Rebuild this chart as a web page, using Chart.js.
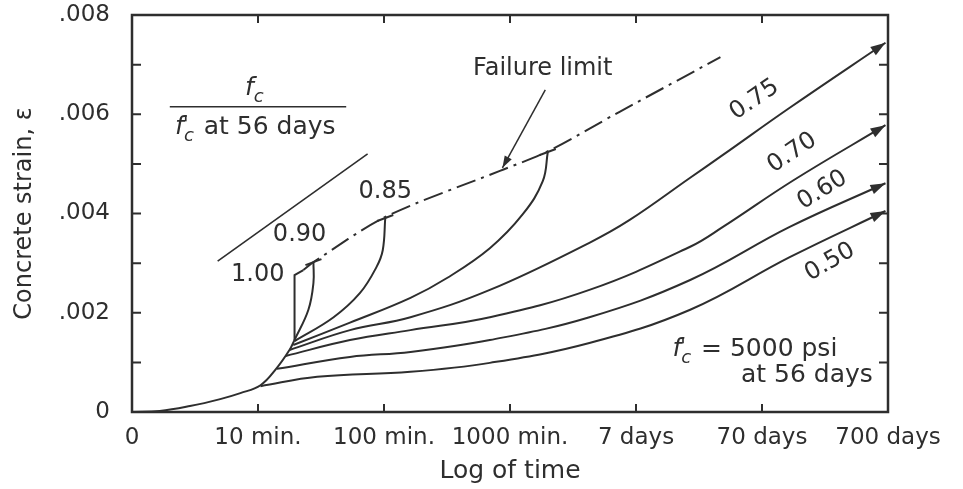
<!DOCTYPE html>
<html>
<head>
<meta charset="utf-8">
<script src="https://cdn.jsdelivr.net/npm/chart.js@4.4.1/dist/chart.umd.min.js"></script>
<style>
  html, body { margin: 0; padding: 0; background: #fff; }
</style>
</head>
<body>
<canvas id="creepChart" width="963" height="489"></canvas>
<script>
// Axis labels
const xTickLabels = ['0', '10 min.', '100 min.', '1000 min.', '7 days', '70 days', '700 days'];
const yTickLabels = ['0', '', '.002', '', '.004', '', '.006', '', '.008'];

// x = position on the log-time axis (0..6), y = strain
const initialX = [0, 0.22, 0.46, 0.70, 0.86, 1.02, 1.15, 1.25, 1.29];
const initialY = [0, 0.00002, 0.00012, 0.00026, 0.00038, 0.00054, 0.00089, 0.00125, 0.00145];

const ratio100X = [1.29, 1.29, 1.36];
const ratio100Y = [0.00145, 0.00276, 0.00286];

const ratio90X = [1.29, 1.40, 1.44, 1.44];
const ratio90Y = [0.00145, 0.00206, 0.00260, 0.00302];

const ratio85X = [1.29, 1.60, 1.81, 1.94, 1.99, 2.01];
const ratio85Y = [0.00143, 0.00191, 0.00240, 0.00292, 0.00326, 0.00391];

const ratio80X = [1.28, 1.73, 2.21, 2.50, 2.84, 3.10, 3.26, 3.30];
const ratio80Y = [0.00135, 0.00180, 0.00230, 0.00270, 0.00330, 0.00398, 0.00465, 0.00524];

const ratio75X = [1.25, 1.73, 2.21, 2.84, 3.63, 3.95, 4.43, 4.69, 5.22, 5.98];
const ratio75Y = [0.00125, 0.00165, 0.00191, 0.00246, 0.00341, 0.00387, 0.00472, 0.00518, 0.00613, 0.00744];

const ratio70X = [1.22, 1.73, 2.21, 2.84, 3.63, 4.43, 4.69, 5.25, 5.98];
const ratio70Y = [0.00113, 0.00145, 0.00165, 0.00191, 0.00246, 0.00333, 0.00373, 0.00467, 0.00578];

const ratio60X = [1.15, 1.73, 2.21, 2.84, 3.63, 4.43, 5.22, 5.98];
const ratio60Y = [0.00087, 0.00111, 0.00121, 0.00145, 0.00191, 0.00266, 0.00373, 0.00461];

const ratio50X = [1.02, 1.47, 2.21, 2.84, 3.63, 4.43, 5.22, 5.98];
const ratio50Y = [0.00052, 0.00071, 0.00081, 0.00099, 0.00139, 0.00206, 0.00312, 0.00405];

const failureX = [1.36, 1.44, 2.01, 2.92, 3.29, 3.87, 4.67];
const failureY = [0.00286, 0.00302, 0.00393, 0.00486, 0.00524, 0.00605, 0.00715];

// bracket line next to the ratio labels
const bracketX = [0.68, 1.87];
const bracketY = [0.00304, 0.00520];

const ink = '#2e2e2e';
const font = 'DejaVu Sans';

const pts = (xs, ys) => xs.map((x, i) => ({ x: x, y: ys[i] }));

function curve(xs, ys, extra) {
    return Object.assign({
        data: pts(xs, ys),
        showLine: true,
        borderColor: ink,
        borderWidth: 2,
        pointRadius: 0,
        tension: 0.4,
        fill: false
    }, extra || {});
}

// text placed in data coordinates
const curveLabels = [
    { text: '1.00', x: 1.21, y: 0.00276, align: 'right', rot: 0 },
    { text: '0.90', x: 1.33, y: 0.00357, align: 'center', rot: 0 },
    { text: '0.85', x: 2.01, y: 0.00443, align: 'center', rot: 0 },
    { text: '0.75', x: 4.94, y: 0.00629, align: 'center', rot: -34 },
    { text: '0.70', x: 5.24, y: 0.00522, align: 'center', rot: -34 },
    { text: '0.60', x: 5.48, y: 0.00447, align: 'center', rot: -32 },
    { text: '0.50', x: 5.54, y: 0.00302, align: 'center', rot: -30 },
    { text: 'Failure limit', x: 3.26, y: 0.00691, align: 'center', rot: 0 }
];

function drawFc(ctx, x, y, prime) {
    ctx.textAlign = 'left';
    ctx.font = 'italic 25px "' + font + '"';
    ctx.fillText('f', x, y);
    let w = ctx.measureText('f').width;
    if (prime) {
        ctx.font = 'italic 20px "' + font + '"';
        ctx.fillText("'", x + w - 1, y - 4);
    }
    ctx.font = 'italic 18px "' + font + '"';
    ctx.fillText('c', x + w, y + 7);
    w += ctx.measureText('c').width;
    return w + 2;
}

const figureDecor = {
    id: 'figureDecor',
    afterDatasetsDraw(chart) {
        const { ctx, chartArea: a, scales } = chart;
        const px = v => scales.x.getPixelForValue(v);
        const py = v => scales.y.getPixelForValue(v);
        ctx.save();
        ctx.strokeStyle = ink;
        ctx.fillStyle = ink;

        // frame
        ctx.lineWidth = 2.5;
        ctx.strokeRect(a.left, a.top, a.right - a.left, a.bottom - a.top);

        // inward tick marks on all four sides
        ctx.lineWidth = 2;
        ctx.beginPath();
        scales.x.ticks.forEach(t => {
            const p = px(t.value);
            ctx.moveTo(p, a.bottom); ctx.lineTo(p, a.bottom - 8);
            ctx.moveTo(p, a.top); ctx.lineTo(p, a.top + 8);
        });
        scales.y.ticks.forEach(t => {
            const p = py(t.value);
            ctx.moveTo(a.left, p); ctx.lineTo(a.left + 9, p);
            ctx.moveTo(a.right, p); ctx.lineTo(a.right - 9, p);
        });
        ctx.stroke();

        // arrowheads and end caps
        chart.data.datasets.forEach((ds, i) => {
            const d = chart.getDatasetMeta(i).data;
            const n = d.length;
            if (n < 2) return;
            const last = d[n - 1], prev = d[n - 2];
            if (ds.arrow) {
                const ang = Math.atan2(last.y - prev.y, last.x - prev.x);
                ctx.beginPath();
                ctx.moveTo(last.x, last.y);
                ctx.lineTo(last.x - 15 * Math.cos(ang) + 5 * Math.sin(ang), last.y - 15 * Math.sin(ang) - 5 * Math.cos(ang));
                ctx.lineTo(last.x - 15 * Math.cos(ang) - 5 * Math.sin(ang), last.y - 15 * Math.sin(ang) + 5 * Math.cos(ang));
                ctx.closePath();
                ctx.fill();
            }
            if (ds.cap) {
                ctx.beginPath();
                ctx.moveTo(last.x - 8, last.y + 3);
                ctx.lineTo(last.x + 8, last.y - 3);
                ctx.stroke();
            }
        });

        // pointer from "Failure limit"
        const x0 = px(3.28), y0 = py(0.00649), x1 = px(2.94), y1 = py(0.00492);
        ctx.lineWidth = 1.5;
        ctx.beginPath();
        ctx.moveTo(x0, y0); ctx.lineTo(x1, y1);
        ctx.stroke();
        const ang = Math.atan2(y1 - y0, x1 - x0);
        ctx.beginPath();
        ctx.moveTo(x1, y1);
        ctx.lineTo(x1 - 12 * Math.cos(ang) + 4 * Math.sin(ang), y1 - 12 * Math.sin(ang) - 4 * Math.cos(ang));
        ctx.lineTo(x1 - 12 * Math.cos(ang) - 4 * Math.sin(ang), y1 - 12 * Math.sin(ang) + 4 * Math.cos(ang));
        ctx.closePath();
        ctx.fill();

        // curve labels
        ctx.textBaseline = 'middle';
        curveLabels.forEach(l => {
            ctx.save();
            ctx.translate(px(l.x), py(l.y));
            ctx.rotate(l.rot * Math.PI / 180);
            ctx.font = '24px "' + font + '"';
            ctx.textAlign = l.align;
            ctx.fillText(l.text, 0, 0);
            ctx.restore();
        });

        // f_c / f'_c at 56 days
        ctx.textBaseline = 'alphabetic';
        const bx0 = px(0.30), bx1 = px(1.70), by = py(0.00615);
        ctx.lineWidth = 1.6;
        ctx.beginPath();
        ctx.moveTo(bx0, by); ctx.lineTo(bx1, by);
        ctx.stroke();
        const cx = (bx0 + bx1) / 2;
        drawFc(ctx, cx - 13, by - 12, false);
        ctx.font = '25px "' + font + '"';
        const rest = ' at 56 days';
        const restW = ctx.measureText(rest).width;
        const left = cx - (restW + 26) / 2;
        const fw = drawFc(ctx, left, by + 27, true);
        ctx.font = '25px "' + font + '"';
        ctx.textAlign = 'left';
        ctx.fillText(rest, left + fw, by + 27);

        // f'_c = 5000 psi / at 56 days
        const rx = px(5.64), ry = py(0.00131) + 9;
        ctx.font = '25px "' + font + '"';
        const t1 = ' = 5000 psi';
        const t1w = ctx.measureText(t1).width;
        const fw2 = drawFc(ctx, rx - t1w - 26, ry, true);
        ctx.font = '25px "' + font + '"';
        ctx.textAlign = 'left';
        ctx.fillText(t1, rx - t1w - 26 + fw2, ry);
        ctx.textAlign = 'right';
        ctx.fillText('at 56 days', px(5.88), py(0.00079) + 9);

        ctx.restore();
    }
};

new Chart(document.getElementById('creepChart').getContext('2d'), {
    type: 'scatter',
    data: {
        datasets: [
            curve(initialX, initialY),
            curve(ratio100X, ratio100Y, { tension: 0 }),
            curve(ratio90X, ratio90Y, { cap: true }),
            curve(ratio85X, ratio85Y, { cap: true }),
            curve(ratio80X, ratio80Y, { cap: true }),
            curve(ratio75X, ratio75Y, { arrow: true }),
            curve(ratio70X, ratio70Y, { arrow: true }),
            curve(ratio60X, ratio60Y, { arrow: true }),
            curve(ratio50X, ratio50Y, { arrow: true }),
            curve(failureX, failureY, { borderDash: [20, 6, 3, 6], tension: 0.3 }),
            curve(bracketX, bracketY, { tension: 0, borderWidth: 1.6 })
        ]
    },
    options: {
        responsive: false,
        animation: false,
        devicePixelRatio: 1,
        layout: { padding: { top: 15, right: 75, left: 0, bottom: 0 } },
        plugins: {
            legend: { display: false },
            tooltip: { enabled: false }
        },
        scales: {
            x: {
                type: 'linear',
                min: 0,
                max: 6,
                afterFit: s => { s.height = 77; },
                grid: { display: false, drawTicks: false },
                border: { display: false },
                ticks: {
                    stepSize: 1,
                    padding: 12,
                    color: ink,
                    font: { family: font, size: 23 },
                    maxRotation: 0,
                    autoSkip: false,
                    callback: v => xTickLabels[Math.round(v)]
                },
                title: {
                    display: true,
                    text: 'Log of time',
                    color: ink,
                    font: { family: font, size: 25 },
                    padding: { bottom: 3 }
                }
            },
            y: {
                type: 'linear',
                min: 0,
                max: 0.008,
                afterFit: s => { s.width = 132; },
                // tick marks are hidden; their length only sets the label gap
                grid: { display: false, drawTicks: true, tickLength: 22 },
                border: { display: false },
                ticks: {
                    stepSize: 0.001,
                    padding: 0,
                    color: ink,
                    font: { family: font, size: 23 },
                    autoSkip: false,
                    callback: v => yTickLabels[Math.round(v * 1000)]
                },
                title: {
                    display: true,
                    text: 'Concrete strain, \u03b5',
                    color: ink,
                    font: { family: font, size: 24 },
                    padding: { top: 10 }
                }
            }
        }
    },
    plugins: [figureDecor]
});
</script>
</body>
</html>
